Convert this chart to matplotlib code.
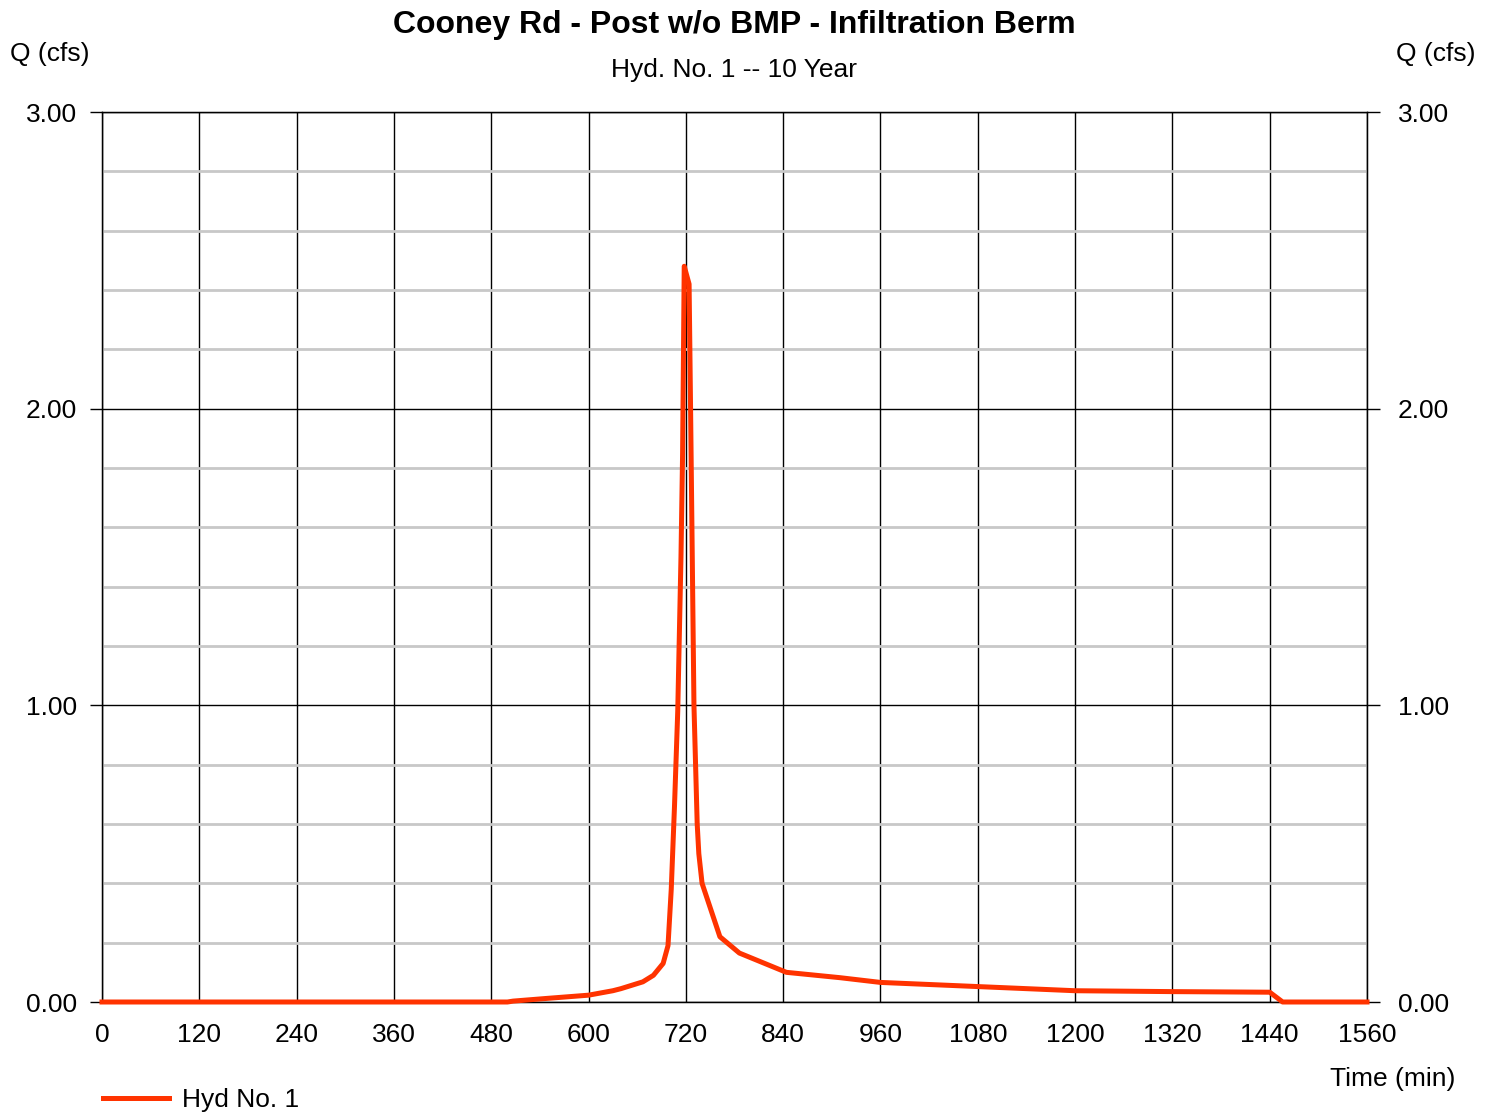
import matplotlib
matplotlib.use('Agg')
import matplotlib.pyplot as plt
from matplotlib.ticker import MultipleLocator

plt.rcParams['font.family'] = ['Liberation Sans', 'DejaVu Sans']

# hydrograph (time in min, flow in cfs)
time_min = [0, 500, 507, 548, 600, 630, 640, 667, 680, 692, 698, 702, 706, 710,
            714, 716, 718, 724, 726, 730, 734, 736, 740, 762, 786, 844, 910,
            960, 1080, 1200, 1320, 1440, 1456, 1560]
flow_cfs = [0, 0, 0.003, 0.012, 0.023, 0.038, 0.045, 0.068, 0.09, 0.13, 0.19,
            0.38, 0.66, 0.98, 1.5, 1.85, 2.48, 2.42, 1.96, 1.0, 0.60, 0.50,
            0.40, 0.22, 0.165, 0.10, 0.082, 0.066, 0.052, 0.038, 0.035, 0.033,
            0.0, 0.0]
x_ticks = list(range(0, 1561, 120))
y_ticks = [0, 1, 2, 3]
series_name = 'Hyd No. 1'

W, H = 1493, 1112
fig = plt.figure(figsize=(W / 100, H / 100), dpi=100)
ax = fig.add_axes([102 / W, 1 - 1002 / H, (1367 - 102) / W, (1002 - 112) / H])

fs = 19
ax.set_xlim(0, 1560)
ax.set_ylim(0, 3)
ax.set_xticks(x_ticks)
ax.set_yticks(y_ticks)
ax.set_yticklabels(['%.2f' % v for v in y_ticks])
ax.yaxis.set_minor_locator(MultipleLocator(0.2))

ax.grid(which='major', axis='both', color='black', lw=1.0)
ax.grid(which='minor', axis='y', color='#c8c8c8', lw=2.0)
ax.set_axisbelow(True)
for s in ax.spines.values():
    s.set_linewidth(1.0)

ax.tick_params(axis='x', length=0, pad=15, labelsize=fs)
ax.tick_params(axis='y', which='major', length=9, width=1.0, direction='out',
               labelsize=fs, pad=9)
ax.tick_params(axis='y', which='minor', length=0)

# right hand scale, same values
ax2 = ax.twinx()
ax2.set_ylim(0, 3)
ax2.set_yticks(y_ticks)
ax2.set_yticklabels(['%.2f' % v for v in y_ticks])
ax2.tick_params(axis='y', length=9, width=1.0, direction='out', labelsize=fs,
                pad=13)

ax2.plot(time_min, flow_cfs, color='#ff3300', lw=3.6, clip_on=False, zorder=5,
         solid_joinstyle='round', label=series_name)

fig.text(734 / W, 1 - 25 / H, 'Cooney Rd - Post w/o BMP - Infiltration Berm',
         ha='center', va='center', fontsize=23, fontweight='bold')
fig.text(734 / W, 1 - 70 / H, 'Hyd. No. 1 -- 10 Year', ha='center',
         va='center', fontsize=fs)
fig.text(10 / W, 1 - 54 / H, 'Q (cfs)', ha='left', va='center', fontsize=fs)
fig.text(1476 / W, 1 - 54 / H, 'Q (cfs)', ha='right', va='center', fontsize=fs)
fig.text(1455 / W, 1 - 1079 / H, 'Time (min)', ha='right', va='center',
         fontsize=fs)

fig.legend(loc='center left', bbox_to_anchor=(103 / W, 1 - 1100 / H),
           frameon=False, borderaxespad=0, borderpad=0, fontsize=fs,
           handlelength=2.5, handletextpad=0.5)

fig.savefig('out.png', dpi=100)
